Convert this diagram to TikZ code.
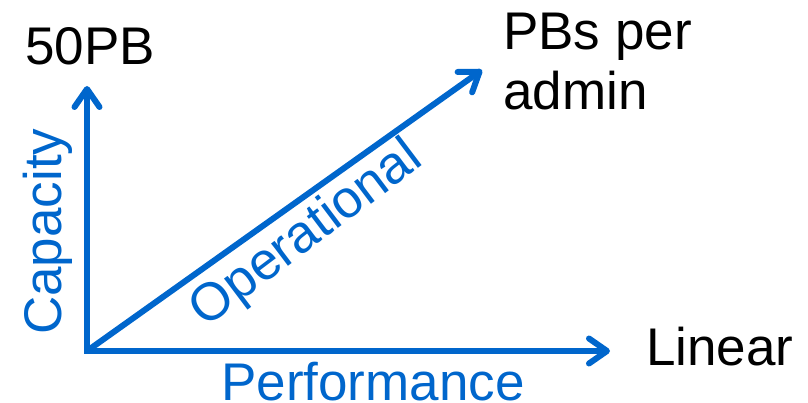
\documentclass[tikz,border=0pt]{standalone}
\usepackage{fontspec}
\setmainfont{Liberation Sans}
\usetikzlibrary{arrows.meta}
\definecolor{axisblue}{HTML}{0066CC}
\begin{document}
\begin{tikzpicture}[x=1pt,y=-1pt,
  axis/.style={draw=axisblue,line width=6pt,-{Straight Barb[length=18pt,width=25pt,round]}},
  lbl/.style={inner sep=0pt,anchor=base west,font=\fontsize{53}{60}\selectfont},
  bluelbl/.style={lbl,text=axisblue}]
\useasboundingbox (0,0) rectangle (808,403);
\coordinate (o) at (87,351);
\coordinate (ytip) at (87,86);
\coordinate (xtip) at (610,351);
\coordinate (dtip) at (482,70);
\draw[axis,line cap=rect] (o) -- (ytip);
\draw[axis,line cap=rect] (o) -- (xtip);
\draw[axis] (o) -- (dtip);
\node[lbl] (cap) at (25,65) {50PB};
\node[lbl,align=left] (pbs) at (503,110) {PBs per\\admin};
\node[lbl] (lin) at (646,365) {Linear};
\node[bluelbl] (perf) at (221,400) {Performance};
\node[bluelbl,rotate=90] (capy) at (61,335) {Capacity};
\node[inner sep=0pt,text=axisblue,font=\fontsize{53}{60}\selectfont,rotate=37] (op) at (307,235) {Operational};
\end{tikzpicture}
\end{document}
